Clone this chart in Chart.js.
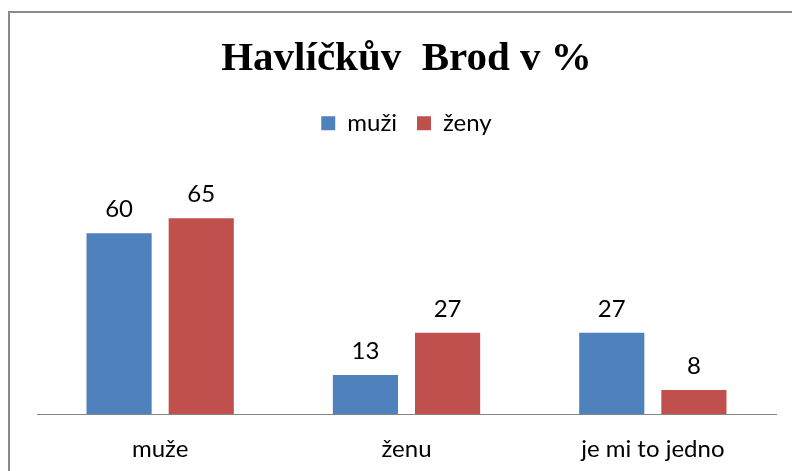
<!DOCTYPE html>
<html>
<head>
<meta charset="utf-8">
<script src="https://cdn.jsdelivr.net/npm/chart.js@4/dist/chart.umd.min.js"></script>
<style>
  html, body { margin: 0; padding: 0; background: #fff; overflow: hidden; }
  #wrap { position: relative; width: 792px; height: 471px; overflow: hidden; }
  #frame { position: absolute; left: 8px; top: 11px; width: 900px; height: 600px; border: 2px solid #898989; box-sizing: border-box; }
  canvas { position: absolute; left: 0; top: 0; }
</style>
</head>
<body>
<div id="wrap">
  <div id="frame"></div>
  <canvas id="c" width="792" height="485"></canvas>
</div>
<script>
const chartTitle = "Havlíčkův  Brod v %";
const categories = ["muže", "ženu", "je mi to jedno"];
const seriesNames = ["muži", "ženy"];
const muziValues = [60, 13, 27];
const zenyValues = [65, 27, 8];
const seriesColors = ["#4F81BD", "#C0504D"];

const valueLabels = {
  id: 'valueLabels',
  afterDatasetsDraw(chart) {
    const ctx = chart.ctx;
    ctx.save();
    ctx.font = '24px Lato';
    ctx.fillStyle = '#000';
    ctx.textAlign = 'center';
    ctx.textBaseline = 'alphabetic';
    chart.data.datasets.forEach((ds, di) => {
      const meta = chart.getDatasetMeta(di);
      meta.data.forEach((el, i) => {
        ctx.fillText(String(ds.data[i]), el.x, el.y - 16);
      });
    });
    ctx.restore();
  }
};

new Chart(document.getElementById('c'), {
  type: 'bar',
  data: {
    labels: categories,
    datasets: [
      { label: seriesNames[0], data: muziValues, backgroundColor: seriesColors[0] },
      { label: seriesNames[1], data: zenyValues, backgroundColor: seriesColors[1] }
    ]
  },
  options: {
    responsive: false,
    animation: false,
    devicePixelRatio: 1,
    categoryPercentage: 0.667,
    barPercentage: 0.793,
    layout: { padding: { left: 37, right: 16, top: 0, bottom: 0 } },
    plugins: {
      title: {
        display: true,
        text: chartTitle,
        color: '#000',
        font: { family: '"Liberation Serif"', size: 41, weight: 'bold' },
        padding: { top: 35, bottom: 7 }
      },
      subtitle: {
        display: true,
        text: '',
        weight: 500,
        font: { size: 10 },
        padding: { top: 0, bottom: 46 }
      },
      legend: {
        display: true,
        labels: {
          color: '#000',
          font: { family: 'Lato', size: 24 },
          boxWidth: 14,
          boxHeight: 14,
          padding: 20
        }
      },
      tooltip: { enabled: false }
    },
    scales: {
      x: {
        grid: { display: true, color: 'rgba(0,0,0,0)', drawTicks: false },
        border: { display: true, color: '#868686', width: 1 },
        ticks: { color: '#000', font: { family: 'Lato', size: 24 }, padding: 21 }
      },
      y: {
        display: false,
        min: 0,
        max: 70
      }
    }
  },
  plugins: [valueLabels]
});
</script>
</body>
</html>
